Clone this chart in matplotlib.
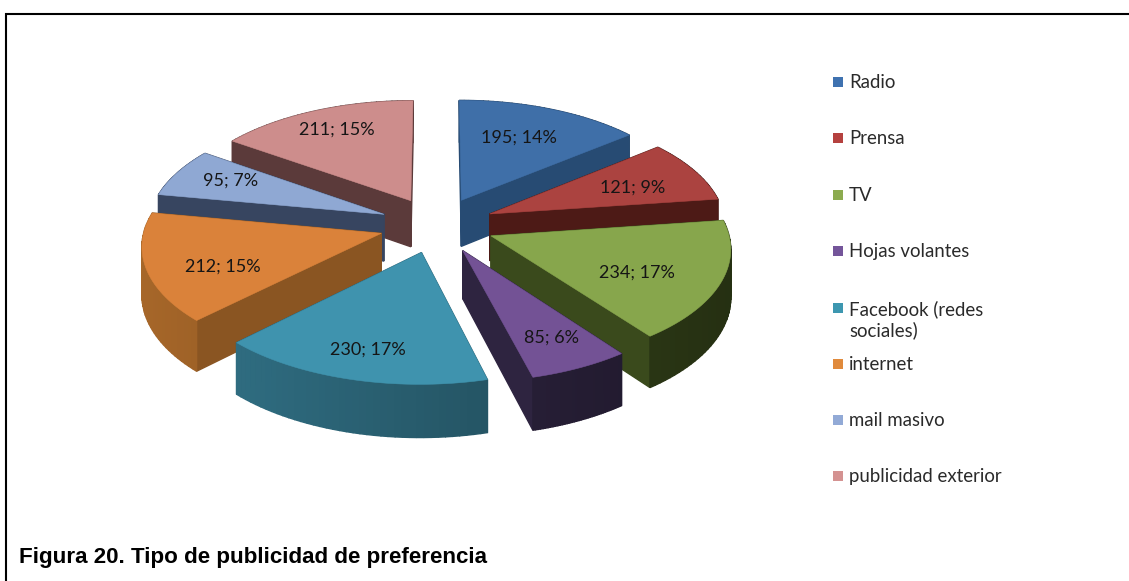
import numpy as np
import matplotlib
matplotlib.use("Agg")
import matplotlib.pyplot as plt
from matplotlib.patches import Polygon, Rectangle

categories = ["Radio", "Prensa", "TV", "Hojas volantes", "Facebook (redes\nsociales)",
              "internet", "mail masivo", "publicidad exterior"]
values = [195, 121, 234, 85, 230, 212, 95, 211]
top_colors = ["#3f6fa8", "#ab4340", "#87a64c", "#735295", "#3f93ae", "#da823a", "#8fa8d3", "#cd8d8c"]
side_colors = ["#274b73", "#4d1a16", "#3a4a1c", "#2e2440", "#2a6173", "#8a5522", "#374560", "#5b3a3a"]
legend_colors = ["#3f72b0", "#b5413f", "#8cab4f", "#74559a", "#3d97b0", "#e08a3c", "#92aad6", "#d49291"]

# label centres and legend rows, in pixels
label_pos = [(519, 138), (633, 188), (637, 273), (552, 338), (368, 350), (223, 267), (231, 181), (337, 130)]
legend_y = [82, 138, 195, 251, 308, 364, 420, 476]

# projection of the pie
CX, CY = 437, 225
RADIUS, EXPLODE, DEPTH = 236, 58, 47
TILT, PERSP = 0.482, 0.0004


def project(x, y, z=0):
    s = 1 / (1 + PERSP * y)
    return CX + x * s, CY - TILT * y * s + z * s


def slice_outline(a0, a1, mid):
    ox, oy = EXPLODE * np.sin(mid), EXPLODE * np.cos(mid)
    ang = np.linspace(a0, a1, 40)
    xs = np.r_[ox, ox + RADIUS * np.sin(ang)]
    ys = np.r_[oy, oy + RADIUS * np.cos(ang)]
    return xs, ys


def shade(color, factor):
    rgb = np.array(matplotlib.colors.to_rgb(color)) * factor
    return tuple(np.clip(rgb, 0, 1))


def draw_slice(ax, a0, a1, top, side):
    mid = (a0 + a1) / 2
    xs, ys = slice_outline(a0, a1, mid)
    n = len(xs)
    faces = []
    for i in range(n):
        j = (i + 1) % n
        p = [project(xs[i], ys[i]), project(xs[j], ys[j]),
             project(xs[j], ys[j], DEPTH), project(xs[i], ys[i], DEPTH)]
        # curved rim gets darker to the right, like the gradient of the original
        col = side
        if i > 0 and j > 0:
            col = shade(side, 1.2 - 0.4 * (p[0][0] - 150) / 500 * 1.2)
        faces.append(((ys[i] + ys[j]) / 2, p, col))
    for _, p, col in sorted(faces, key=lambda f: -f[0]):
        ax.add_patch(Polygon(p, closed=True, fc=col, ec=col, lw=1.0))
    sx, sy = project(xs, ys)
    ax.add_patch(Polygon(np.c_[sx, sy], closed=True, fc=top, ec=top, lw=0.4))


fig = plt.figure(figsize=(11.29, 5.81), dpi=100)
ax = fig.add_axes([0, 0, 1, 1])
ax.set_xlim(0, 1129)
ax.set_ylim(581, 0)
ax.axis("off")

# frame, only left and top are visible in the original
ax.plot([6, 6, 1129], [581, 14, 14], color="black", lw=1.5, solid_joinstyle="miter")

total = sum(values)
edges = np.r_[0, np.cumsum(values)] / total * 2 * np.pi
mids = (edges[:-1] + edges[1:]) / 2

for i in sorted(range(len(values)), key=lambda k: -np.cos(mids[k])):
    draw_slice(ax, edges[i], edges[i + 1], top_colors[i], side_colors[i])

for v, (lx, ly) in zip(values, label_pos):
    ax.text(lx, ly, f"{v}; {round(100 * v / total)}%", ha="center", va="center",
            fontsize=13, family="Lato", color="#151515")

for name, col, ly in zip(categories, legend_colors, legend_y):
    ax.add_patch(Rectangle((833, ly - 5), 10, 10, fc=col, ec="none"))
    ax.text(849, ly - 8, name, ha="left", va="top", fontsize=13.4, family="Lato",
            color="#2a2a2a", linespacing=1.25)

ax.text(19, 558, "Figura 20. Tipo de publicidad de preferencia", ha="left", va="center",
        fontsize=16.1, fontweight="bold", family="Liberation Sans", color="black")

fig.savefig("out.png", dpi=100)
